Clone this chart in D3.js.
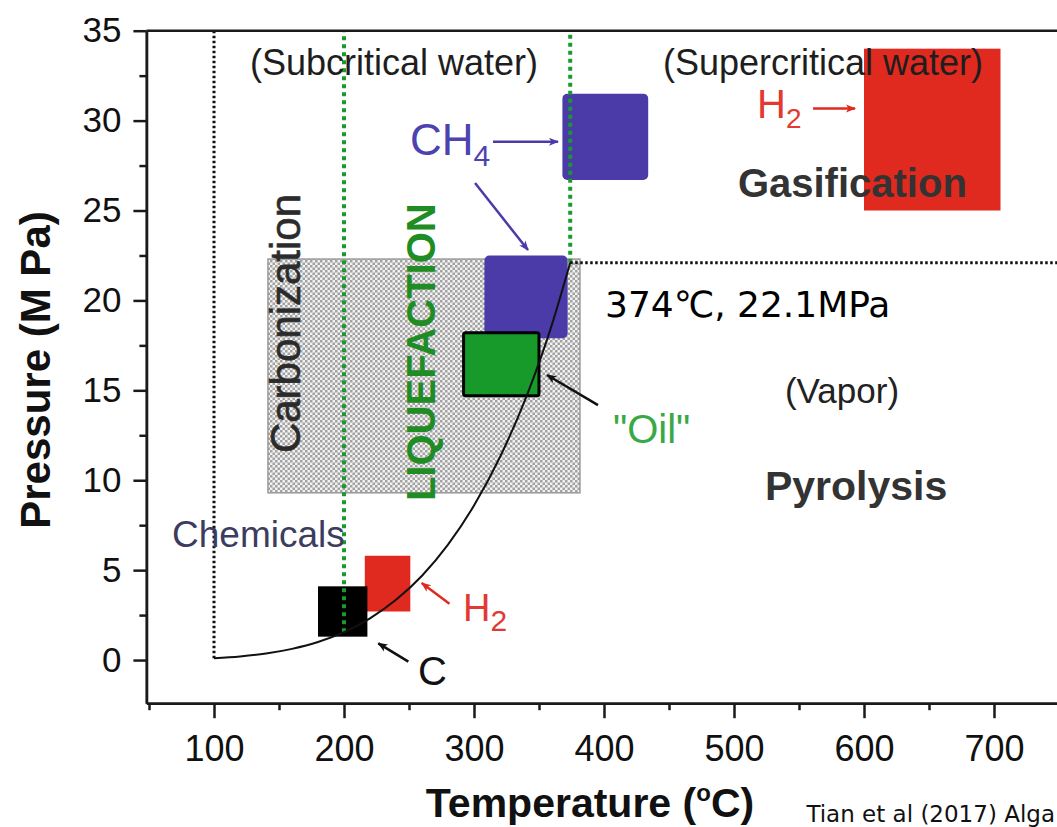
<!DOCTYPE html>
<html>
<head>
<meta charset="utf-8">
<script src="https://cdn.jsdelivr.net/npm/d3@7"></script>
<style>
  body { margin: 0; background: #fff; }
  svg { display: block; font-family: "Liberation Sans", Arial, Helvetica, sans-serif; }
</style>
</head>
<body>
<svg id="chart" width="1057" height="827"></svg>
<script>
// ---- axis ticks ----
const tempTicks = [100, 200, 300, 400, 500, 600, 700];
const tempMinorTicks = [50, 150, 250, 350, 450, 550, 650, 750];
const presTicks = [0, 5, 10, 15, 20, 25, 30, 35];
const presMinorTicks = [2.5, 7.5, 12.5, 17.5, 22.5, 27.5, 32.5];

// ---- liquid/vapour saturation line of water (boiling point -> critical point) ----
const satTemp = [100, 120, 140, 160, 180, 200, 220, 240, 260, 280, 300, 320, 340, 360, 374];
const satPres = [0.10, 0.20, 0.36, 0.62, 1.00, 1.55, 2.32, 3.35, 4.69, 6.42, 8.59, 11.29, 14.60, 18.67, 22.1];

const critTemp = 374;
const critPres = 22.1;
const boilTemp = 100;
const liquefactionStart = 200;
const liquefactionStartPres = 1.55;

// ---- carbonization window ----
const carbTemp = [141.5, 381.5];
const carbPres = [9.3, 22.3];

// ---- product windows (°C, MPa) ----
const productKeys    = ["H2super", "CH4super", "CH4sub", "oil", "H2sub", "carbon"];
const productTempLo  = [600, 368, 308, 292, 216, 180];
const productTempHi  = [705, 434, 372, 350, 251, 218];
const productPresLo  = [25.0, 26.7, 17.9, 14.7, 2.7, 1.3];
const productPresHi  = [34.0, 31.5, 22.5, 18.2, 5.8, 4.1];

// ---- arrows from labels to windows: [T, P] start and end ----
const arrowKeys = ["CH4super", "CH4sub", "H2super", "H2sub", "carbon", "oil"];
const arrowFrom = [[314.6, 28.83], [300.8, 26.53], [560.8, 30.68], [281.1, 3.13], [249.5, -0.09], [395.4, 14.18]];
const arrowTo   = [[364.6, 28.83], [341.5, 22.8], [593.1, 30.68], [259.8, 4.28], [226.4, 0.93], [356.2, 15.85]];

// ---- colours ----
const colors = {
  H2super: "#e0291f", CH4super: "#4a3ba9", CH4sub: "#4a3ba9",
  oil: "#179a2a", H2sub: "#e0291f", carbon: "#000000"
};
const arrowColors = {
  CH4super: "#4a3ba9", CH4sub: "#4a3ba9", H2super: "#e0291f",
  H2sub: "#e0291f", carbon: "#111", oil: "#111"
};

const svg = d3.select("#chart");

const x = d3.scaleLinear().domain([48, 760]).range([146.4, 1072]);
const y = d3.scaleLinear().domain([-2.4, 35]).range([703.2, 30.7]);

// hatch pattern for the carbonization window
const defs = svg.append("defs");
const pat = defs.append("pattern")
  .attr("id", "checker").attr("patternUnits", "userSpaceOnUse")
  .attr("width", 5).attr("height", 5);
pat.append("rect").attr("width", 5).attr("height", 5).attr("fill", "#f2f2f2");
pat.append("rect").attr("x", 0).attr("y", 0).attr("width", 2.5).attr("height", 2.5).attr("fill", "#a2a2a2");
pat.append("rect").attr("x", 2.5).attr("y", 2.5).attr("width", 2.5).attr("height", 2.5).attr("fill", "#a2a2a2");

// arrowhead markers
Object.entries({ blue: "#4a3ba9", red: "#e0291f", black: "#111" }).forEach(([k, c]) => {
  defs.append("marker")
    .attr("id", "head-" + k)
    .attr("viewBox", "0 0 10 10")
    .attr("refX", 9).attr("refY", 5)
    .attr("markerWidth", 13).attr("markerHeight", 10)
    .attr("markerUnits", "userSpaceOnUse")
    .attr("orient", "auto")
    .append("path").attr("d", "M0,1 L10,5 L0,9 L2.5,5 Z").attr("fill", c);
});
const headFor = c => c === "#4a3ba9" ? "head-blue" : (c === "#e0291f" ? "head-red" : "head-black");

// ---- carbonization window ----
svg.append("rect")
  .attr("x", x(carbTemp[0])).attr("y", y(carbPres[1]))
  .attr("width", x(carbTemp[1]) - x(carbTemp[0]))
  .attr("height", y(carbPres[0]) - y(carbPres[1]))
  .attr("fill", "url(#checker)")
  .attr("stroke", "#9a9a9a").attr("stroke-width", 1.5);

// ---- product windows ----
const products = productKeys.map((k, i) => ({
  key: k, t0: productTempLo[i], t1: productTempHi[i], p0: productPresLo[i], p1: productPresHi[i]
}));
svg.append("g").selectAll("rect").data(products).join("rect")
  .attr("x", d => x(d.t0)).attr("y", d => y(d.p1))
  .attr("width", d => x(d.t1) - x(d.t0))
  .attr("height", d => y(d.p0) - y(d.p1))
  .attr("rx", d => d.key.startsWith("CH4") ? 5 : (d.key === "oil" ? 2 : 0))
  .attr("fill", d => colors[d.key])
  .attr("stroke", d => d.key === "oil" ? "#000" : "none")
  .attr("stroke-width", 3);

// ---- region texts drawn on the windows ----
svg.append("text")
  .attr("transform", `translate(${x(166.2)},${y(11.51)}) rotate(-90)`)
  .attr("font-size", 42).attr("fill", "#2b2b2b")
  .attr("stroke", "#2b2b2b").attr("stroke-width", 0.6)
  .text("Carbonization");

svg.append("text")
  .attr("transform", `translate(${x(270)},${y(8.84)}) rotate(-90)`)
  .attr("font-size", 40).attr("font-weight", "bold").attr("fill", "#1f8c24")
  .text("LIQUEFACTION");

// ---- boundary lines ----
const lines = svg.append("g").attr("fill", "none");
// boiling point at 0.1 MPa
lines.append("line")
  .attr("x1", x(boilTemp)).attr("x2", x(boilTemp))
  .attr("y1", y(satPres[0])).attr("y2", y(35))
  .attr("stroke", "#111").attr("stroke-width", 3).attr("stroke-dasharray", "2.5,2.5");
// liquefaction limits
lines.append("line")
  .attr("x1", x(liquefactionStart)).attr("x2", x(liquefactionStart))
  .attr("y1", y(liquefactionStartPres)).attr("y2", y(35))
  .attr("stroke", "#1a9a2c").attr("stroke-width", 4).attr("stroke-dasharray", "4,4");
lines.append("line")
  .attr("x1", x(critTemp)).attr("x2", x(critTemp))
  .attr("y1", y(critPres)).attr("y2", y(35))
  .attr("stroke", "#1a9a2c").attr("stroke-width", 4).attr("stroke-dasharray", "4,4");
// critical pressure
lines.append("line")
  .attr("x1", x(critTemp)).attr("x2", x(760))
  .attr("y1", y(critPres)).attr("y2", y(critPres))
  .attr("stroke", "#111").attr("stroke-width", 3).attr("stroke-dasharray", "2.5,2.5");
// saturation curve
lines.append("path")
  .datum(satTemp.map((t, i) => [t, satPres[i]]))
  .attr("d", d3.line().x(d => x(d[0])).y(d => y(d[1])).curve(d3.curveMonotoneX))
  .attr("stroke", "#111").attr("stroke-width", 2);

// ---- arrows ----
const arrows = arrowKeys.map((k, i) => ({ key: k, a: arrowFrom[i], b: arrowTo[i] }));
svg.append("g").selectAll("line").data(arrows).join("line")
  .attr("x1", d => x(d.a[0])).attr("y1", d => y(d.a[1]))
  .attr("x2", d => x(d.b[0])).attr("y2", d => y(d.b[1]))
  .attr("stroke", d => arrowColors[d.key]).attr("stroke-width", 2.5)
  .attr("marker-end", d => "url(#" + headFor(arrowColors[d.key]) + ")");

// ---- annotations ----
const ann = svg.append("g");
function label(t, p, txt, size, color, weight) {
  return ann.append("text").attr("x", x(t)).attr("y", y(p))
    .attr("font-size", size).attr("fill", color).attr("font-weight", weight || "normal")
    .text(txt);
}
label(127.7, 32.54, "(Subcritical water)", 36, "#1e1e1e");
label(445.4, 32.54, "(Supercritical water)", 36, "#1e1e1e");

const ch4 = label(250.8, 28.09, "CH", 44, "#4d43b0");
ch4.append("tspan").attr("font-size", 30).attr("dy", 11).text("4");

const h2a = label(517.7, 30.14, "H", 40, "#e23a33");
h2a.append("tspan").attr("font-size", 28).attr("dy", 10).text("2");

label(503, 25.75, "Gasification", 40, "#333", "bold");
label(539.2, 14.29, "(Vapor)", 35, "#222");
label(523.8, 8.9, "Pyrolysis", 41, "#333", "bold");
label(406.9, 12.07, "\"Oil\"", 40, "#39a847");
label(67.7, 6.28, "Chemicals", 37, "#3c3c5e");

const h2b = label(291.5, 2.17, "H", 38, "#e23a33");
h2b.append("tspan").attr("font-size", 30).attr("dy", 10).text("2");

label(256.9, -1.39, "C", 40, "#111");

// critical point annotation
ann.append("text").attr("x", x(400.8)).attr("y", y(19.08))
  .style("font-family", "'DejaVu Sans', 'Noto Sans CJK JP', sans-serif")
  .attr("font-size", 36).attr("fill", "#000")
  .text(`${critTemp}\u2103, ${critPres}MPa`);

// ---- axes ----
const axisStyle = g => {
  g.selectAll(".domain").attr("stroke", "#1a1a1a").attr("stroke-width", 2.5);
  g.selectAll(".tick line").attr("stroke", "#1a1a1a").attr("stroke-width", 2.5);
  g.selectAll(".tick text").attr("fill", "#111")
    .style("font-family", "'Liberation Sans', Arial, sans-serif");
};

svg.append("g").attr("transform", `translate(0,${y(-2.4)})`)
  .call(d3.axisBottom(x).tickValues(tempMinorTicks).tickSize(7).tickSizeOuter(0).tickFormat(""))
  .call(axisStyle);
svg.append("g").attr("transform", `translate(0,${y(-2.4)})`)
  .call(d3.axisBottom(x).tickValues(tempTicks).tickSize(15).tickSizeOuter(0).tickPadding(17))
  .call(axisStyle)
  .call(g => g.selectAll(".tick text").attr("font-size", 36));

svg.append("g").attr("transform", `translate(${x(48)},0)`)
  .call(d3.axisLeft(y).tickValues(presMinorTicks).tickSize(7).tickSizeOuter(0).tickFormat(""))
  .call(axisStyle);
svg.append("g").attr("transform", `translate(${x(48)},0)`)
  .call(d3.axisLeft(y).tickValues(presTicks).tickSize(13).tickSizeOuter(0).tickPadding(12))
  .call(axisStyle)
  .call(g => g.selectAll(".tick text").attr("font-size", 35));

// top frame line
svg.append("line")
  .attr("x1", x(48)).attr("x2", x(760))
  .attr("y1", y(35)).attr("y2", y(35))
  .attr("stroke", "#1a1a1a").attr("stroke-width", 2.5);

// axis titles
const xt = svg.append("text")
  .attr("x", 590).attr("y", 817).attr("text-anchor", "middle")
  .attr("font-size", 41).attr("font-weight", "bold").attr("fill", "#111")
  .text("Temperature (");
xt.append("tspan").attr("font-size", 24).attr("dy", -16).text("o");
xt.append("tspan").attr("dy", 16).text("C)");

svg.append("text")
  .attr("transform", "translate(50,370) rotate(-90)")
  .attr("text-anchor", "middle")
  .attr("font-size", 42).attr("font-weight", "bold").attr("fill", "#111")
  .text("Pressure (M Pa)");

// source note
svg.append("text")
  .attr("x", 1055).attr("y", 822).attr("text-anchor", "end")
  .style("font-family", "'DejaVu Sans', sans-serif")
  .attr("font-size", 23).attr("fill", "#111")
  .text("Tian et al (2017) Alga");
</script>
</body>
</html>
